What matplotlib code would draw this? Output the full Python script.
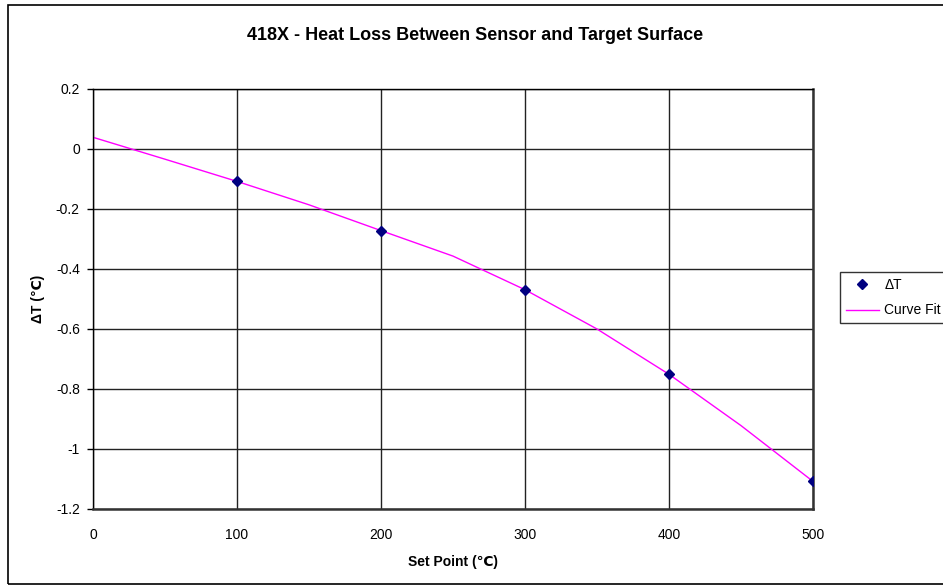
import matplotlib
matplotlib.use("Agg")
import matplotlib.pyplot as plt
from matplotlib.patches import Rectangle

plt.rcParams['font.family'] = ['Liberation Sans', 'DejaVu Sans']

# measured points
set_point = [100, 200, 300, 400, 500]
delta_t = [-0.108, -0.272, -0.469, -0.751, -1.108]

# curve fit
fit_x = [0, 50, 100, 150, 200, 250, 300, 350, 400, 450, 500]
fit_y = [0.039, -0.034, -0.108, -0.186, -0.272, -0.357, -0.469, -0.600, -0.751, -0.922, -1.108]

x_ticks = [0, 100, 200, 300, 400, 500]
y_ticks = [0.2, 0, -0.2, -0.4, -0.6, -0.8, -1, -1.2]
y_labels = ['0.2', '0', '-0.2', '-0.4', '-0.6', '-0.8', '-1', '-1.2']

fig = plt.figure(figsize=(9.43, 5.88), dpi=100)
ax = fig.add_axes([93/943, 1 - 509/588, 720/943, 420/588])

# outer chart border, runs off the right edge like the reference
fig.patches.append(Rectangle((8/943, 1 - 584/588), 1.0, 579/588, transform=fig.transFigure,
                             fill=False, edgecolor='black', linewidth=1.2, zorder=0))

ax.plot(set_point, delta_t, linestyle='none', marker='D', markersize=5.5,
        color='#000080', label='\u0394T', zorder=3)
ax.plot(fit_x, fit_y, color='#FF00FF', linewidth=1, label='Curve Fit', zorder=2)

ax.set_xlim(0, 500)
ax.set_ylim(-1.2, 0.2)
ax.set_xticks(x_ticks)
ax.set_yticks(y_ticks)
ax.set_yticklabels(y_labels)
ax.grid(True, color='#222222', linewidth=1)
ax.set_axisbelow(True)
ax.tick_params(axis='x', length=0, pad=14, labelsize=10)
ax.tick_params(axis='y', length=4.5, width=1, direction='out', pad=5, labelsize=10)

for side in ['left', 'top']:
    ax.spines[side].set_color('black')
    ax.spines[side].set_linewidth(1)
for side in ['right', 'bottom']:
    ax.spines[side].set_color('#333333')
    ax.spines[side].set_linewidth(1.8)

fig.text(475/943, 1 - 35/588, '418X - Heat Loss Between Sensor and Target Surface',
         fontsize=13, fontweight='bold', ha='center', va='center')
ax.set_xlabel('Set Point (\u2103)', fontsize=10, fontweight='bold', labelpad=9)
ax.set_ylabel('\u0394T (\u2103)', fontsize=10, fontweight='bold', labelpad=8)

leg = fig.legend(loc='upper left', bbox_to_anchor=(840/943, 1 - 272/588), fontsize=10,
                 frameon=True, fancybox=False, edgecolor='black', borderpad=0.4,
                 borderaxespad=0, handlelength=2.4, handletextpad=0.4, labelspacing=0.85)
leg.get_frame().set_linewidth(1)

fig.savefig('out.png', dpi=100)
